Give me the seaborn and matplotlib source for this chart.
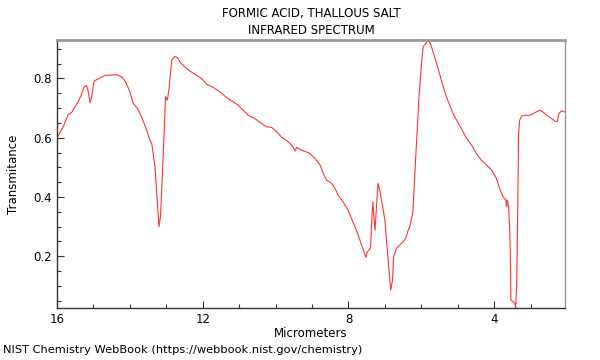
import matplotlib
matplotlib.use("Agg")
import matplotlib.pyplot as plt
from matplotlib.ticker import MultipleLocator
import pandas as pd
import seaborn as sns

# spectrum (wavelength in micrometers, transmittance)
micrometers = [
    16.00, 15.83, 15.69, 15.60, 15.51, 15.42, 15.32, 15.26, 15.20, 15.16,
    15.09, 15.05, 14.98, 14.87, 14.68, 14.55, 14.36, 14.22, 14.12, 14.00,
    13.91, 13.79, 13.66, 13.54, 13.45, 13.40, 13.31, 13.25, 13.20, 13.16,
    13.11, 13.06, 13.02, 12.97, 12.92, 12.85, 12.76, 12.67, 12.63, 12.49,
    12.35, 12.17, 12.03, 11.89, 11.71, 11.53, 11.34, 11.16, 11.03, 10.89,
    10.75, 10.57, 10.38, 10.25, 10.11, 9.97, 9.84, 9.65, 9.52, 9.47,
    9.42, 9.29, 9.15, 9.06, 8.92, 8.78, 8.69, 8.60, 8.46, 8.37,
    8.28, 8.15, 8.01, 7.92, 7.82, 7.73, 7.64, 7.57, 7.52, 7.48,
    7.43, 7.39, 7.37, 7.33, 7.30, 7.27, 7.23, 7.19, 7.14, 7.06,
    7.00, 6.94, 6.88, 6.84, 6.79, 6.76, 6.68, 6.59, 6.50, 6.43,
    6.36, 6.32, 6.23, 6.18, 6.12, 6.06, 5.99, 5.95, 5.88, 5.81,
    5.75, 5.68, 5.58, 5.49, 5.40, 5.31, 5.22, 5.13, 5.03, 4.90,
    4.76, 4.62, 4.49, 4.35, 4.21, 4.07, 3.94, 3.85, 3.76, 3.68,
    3.66, 3.64, 3.61, 3.60, 3.57, 3.55, 3.54, 3.48, 3.43, 3.41,
    3.38, 3.35, 3.33, 3.30, 3.25, 3.16, 3.02, 2.89, 2.75, 2.66,
    2.56, 2.43, 2.34, 2.27, 2.22, 2.15, 2.06,
]
transmittance = [
    0.600, 0.637, 0.679, 0.685, 0.704, 0.721, 0.749, 0.770, 0.777, 0.766,
    0.718, 0.738, 0.792, 0.798, 0.811, 0.811, 0.813, 0.805, 0.789, 0.755,
    0.716, 0.699, 0.665, 0.626, 0.592, 0.581, 0.502, 0.390, 0.300, 0.333,
    0.468, 0.614, 0.738, 0.727, 0.772, 0.862, 0.875, 0.867, 0.856, 0.839,
    0.825, 0.811, 0.800, 0.780, 0.770, 0.755, 0.735, 0.721, 0.710, 0.693,
    0.676, 0.665, 0.648, 0.637, 0.635, 0.620, 0.603, 0.586, 0.569, 0.555,
    0.567, 0.558, 0.552, 0.547, 0.530, 0.508, 0.480, 0.457, 0.446, 0.429,
    0.406, 0.384, 0.356, 0.328, 0.299, 0.271, 0.238, 0.215, 0.196, 0.215,
    0.221, 0.232, 0.299, 0.384, 0.333, 0.288, 0.367, 0.446, 0.423, 0.367,
    0.322, 0.232, 0.142, 0.086, 0.120, 0.198, 0.227, 0.238, 0.249, 0.260,
    0.288, 0.299, 0.350, 0.474, 0.609, 0.744, 0.856, 0.907, 0.918, 0.929,
    0.918, 0.890, 0.851, 0.811, 0.772, 0.738, 0.710, 0.682, 0.659, 0.631,
    0.598, 0.575, 0.547, 0.524, 0.508, 0.491, 0.463, 0.429, 0.401, 0.390,
    0.367, 0.390, 0.373, 0.356, 0.277, 0.165, 0.052, 0.047, 0.041, 0.025,
    0.109, 0.390, 0.615, 0.659, 0.673, 0.676, 0.676, 0.684, 0.693, 0.687,
    0.676, 0.665, 0.657, 0.654, 0.682, 0.691, 0.687,
]

df = pd.DataFrame({"Micrometers": micrometers, "Transmitance": transmittance})

sns.set_style("ticks")
plt.rcParams["font.family"] = ["DejaVu Sans"]
plt.rcParams["text.color"] = "black"
plt.rcParams["axes.labelcolor"] = "black"
plt.rcParams["xtick.color"] = "black"
plt.rcParams["ytick.color"] = "black"

fig = plt.figure(figsize=(6, 3.6), dpi=100)
ax = fig.add_axes([0.095, 0.144, 0.847, 0.745])

sns.lineplot(data=df, x="Micrometers", y="Transmitance", sort=False,
             estimator=None, color="#ff3333", linewidth=0.8, ax=ax)

ax.set_xlim(16, 2.05)
ax.set_ylim(0.025, 0.93)
ax.xaxis.set_major_locator(MultipleLocator(4))
ax.xaxis.set_minor_locator(MultipleLocator(1))
ax.yaxis.set_major_locator(MultipleLocator(0.2))
ax.yaxis.set_minor_locator(MultipleLocator(0.05))
ax.tick_params(which="both", direction="in", top=False, right=False,
               labelsize=8.5, color="#333333")
ax.tick_params(which="major", length=5, width=0.8)
ax.tick_params(which="minor", length=3, width=0.8)

for side in ["top", "right"]:
    ax.spines[side].set_visible(True)
    ax.spines[side].set_color("#999999")
ax.spines["top"].set_linewidth(2)
ax.spines["right"].set_linewidth(1)
for side in ["left", "bottom"]:
    ax.spines[side].set_color("#333333")
    ax.spines[side].set_linewidth(1)

ax.set_title("FORMIC ACID, THALLOUS SALT\nINFRARED SPECTRUM", fontsize=8.5,
             pad=4, linespacing=1.4, color="black")
ax.set_xlabel("Micrometers", fontsize=8.5, labelpad=1)
ax.set_ylabel("Transmitance", fontsize=8.5, labelpad=10)
fig.text(0.005, 0.015, "NIST Chemistry WebBook (https://webbook.nist.gov/chemistry)",
         fontsize=8.2, ha="left", va="bottom")

fig.savefig("out.png", dpi=100)
